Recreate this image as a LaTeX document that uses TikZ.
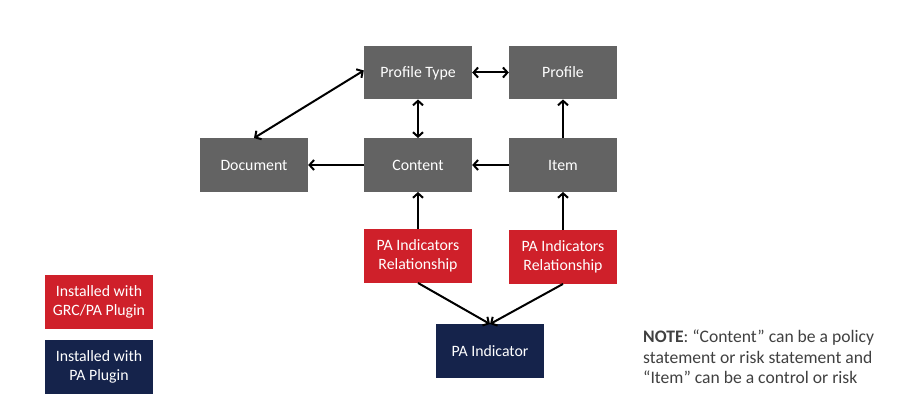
\documentclass[tikz,border=0pt]{standalone}
\usepackage{fontspec}
\setmainfont{Carlito}
\usetikzlibrary{arrows.meta}
\definecolor{boxgray}{RGB}{99,99,99}
\definecolor{boxred}{RGB}{207,32,42}
\definecolor{boxnavy}{RGB}{21,35,75}
\definecolor{notegray}{RGB}{64,64,64}
\begin{document}
\begin{tikzpicture}[x=1pt,y=-1pt,
  box/.style={minimum width=108pt,minimum height=53.5pt,inner sep=0pt,text=white,
    font=\fontsize{15.8}{19}\selectfont,align=center},
  onel/.style={text height=11pt,text depth=0pt},
  gbox/.style={box,fill=boxgray},
  rbox/.style={box,fill=boxred},
  nbox/.style={box,fill=boxnavy},
  tip/.tip={Straight Barb[length=4.5pt,width=10pt]},
  conn/.style={draw=black,line width=2pt,-tip},
  biconn/.style={draw=black,line width=2pt,tip-tip}]
\useasboundingbox (0,0) rectangle (913,403);
\node[gbox,onel] (pt) at (418,72.5) {Profile Type};
\node[gbox,onel] (prof) at (563,72.5) {Profile};
\node[gbox,onel] (doc) at (254,165) {Document};
\node[gbox,onel] (cont) at (418,165) {Content};
\node[gbox,onel] (item) at (563,165) {Item};
\node[rbox] (rel1) at (418,256) {PA Indicators\\Relationship};
\node[rbox] (rel2) at (563,257) {PA Indicators\\Relationship};
\node[nbox,onel] (pai) at (490,351) {PA Indicator};
\node[rbox] (leg1) at (99,302) {Installed with\\GRC/PA Plugin};
\node[nbox] (leg2) at (99,367) {Installed with\\PA Plugin};
\node[anchor=west,text=notegray,align=left,font=\fontsize{17.6}{20.5}\selectfont,inner sep=0pt] (note) at (643,357)
  {\textbf{NOTE}: “Content” can be a policy\\statement or risk statement and\\“Item” can be a control or risk};
\draw[biconn] (pt.east) -- (prof.west);
\draw[biconn] (pt.south) -- (cont.north);
\draw[biconn] (doc.north) -- ([yshift=2pt]pt.west);
\draw[conn] (cont.west) -- (doc.east);
\draw[conn] (item.west) -- (cont.east);
\draw[conn] (item.north) -- (prof.south);
\draw[conn] (rel1.north) -- (cont.south);
\draw[conn] (rel2.north) -- (item.south);
\draw[conn] (rel1.south) -- (pai.north);
\draw[conn] (rel2.south) -- (pai.north);
\end{tikzpicture}
\end{document}
